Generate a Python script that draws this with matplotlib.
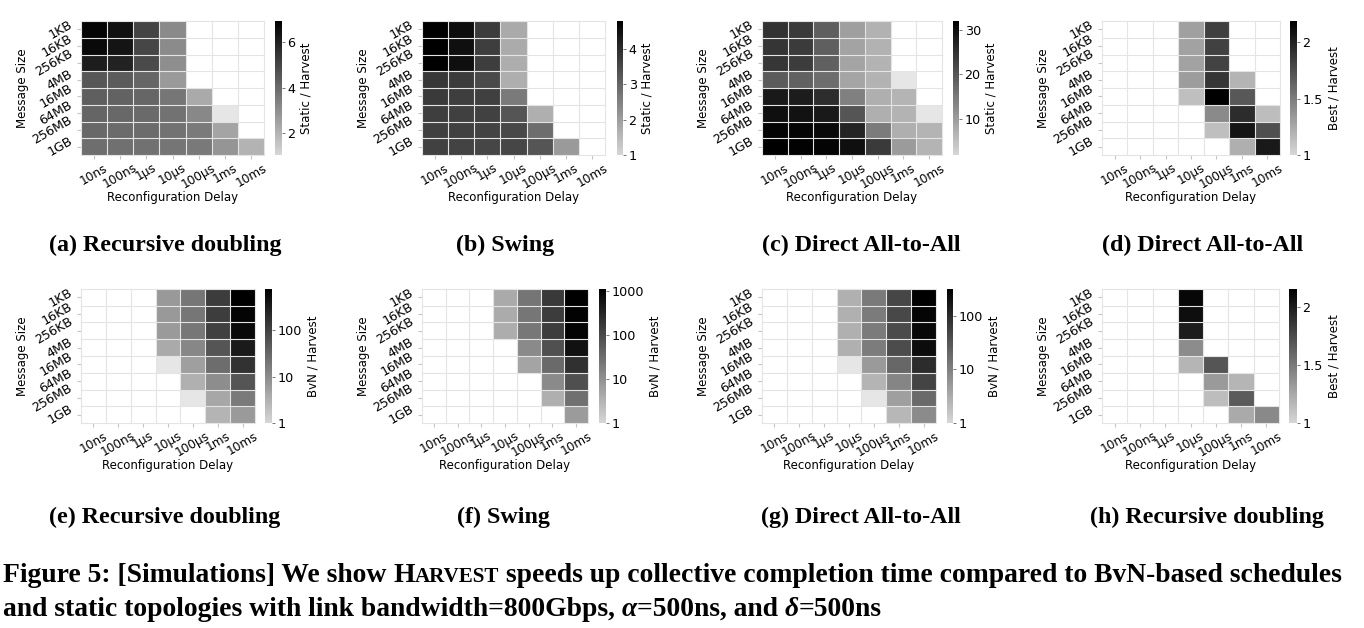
import numpy as np
import matplotlib
matplotlib.use('Agg')
import matplotlib.pyplot as plt
from matplotlib.colors import LinearSegmentedColormap, Normalize, LogNorm
from matplotlib.ticker import FixedLocator, NullLocator, FuncFormatter

n = np.nan

msg_sizes = ['1KB', '16KB', '256KB', '4MB', '16MB', '64MB', '256MB', '1GB']
delays = ['10ns', '100ns', '1µs', '10µs', '100µs', '1ms', '10ms']

# (a) Static / Harvest, Recursive doubling
static_rd = [[6.76, 6.44, 5.05, 3.15, n, n, n],
             [6.63, 6.33, 4.97, 3.10, n, n, n],
             [6.08, 5.98, 4.89, 3.04, n, n, n],
             [4.51, 4.40, 4.13, 2.72, n, n, n],
             [4.32, 4.21, 4.13, 3.67, 2.28, n, n],
             [4.16, 4.07, 4.02, 3.78, 3.20, 0.95, n],
             [4.07, 3.99, 3.94, 3.78, 3.59, 2.42, n],
             [3.91, 3.86, 3.80, 3.69, 3.61, 2.83, 2.04]]
# (b) Static / Harvest, Swing
static_swing = [[4.80, 4.55, 3.74, 1.80, n, n, n],
                [4.80, 4.52, 3.70, 1.76, n, n, n],
                [4.80, 4.53, 3.69, 1.74, n, n, n],
                [3.81, 3.74, 3.49, 1.72, n, n, n],
                [3.77, 3.70, 3.67, 2.64, n, n, n],
                [3.70, 3.67, 3.63, 3.30, 1.69, n, n],
                [3.67, 3.63, 3.60, 3.51, 2.86, n, n],
                [3.63, 3.60, 3.56, 3.54, 3.30, 2.08, n]]
# (c) Static / Harvest, Direct All-to-All
static_a2a = [[24.8, 23.8, 18.8, 9.6, 7.1, n, n],
              [24.5, 23.7, 18.7, 9.2, 7.1, n, n],
              [24.4, 23.6, 18.5, 9.1, 7.0, n, n],
              [19.1, 18.3, 16.6, 8.8, 7.0, 1.5, n],
              [28.3, 28.0, 25.5, 14.1, 7.4, 6.9, n],
              [29.7, 29.4, 28.3, 20.1, 7.4, 7.0, 1.5],
              [31.2, 31.1, 30.5, 26.8, 14.7, 7.4, 6.7],
              [31.9, 31.6, 31.2, 29.7, 23.8, 10.2, 6.7]]
# (d) Best / Harvest, Direct All-to-All
best_a2a = [[n, n, n, 1.30, 1.84, n, n],
            [n, n, n, 1.29, 1.83, n, n],
            [n, n, n, 1.29, 1.82, n, n],
            [n, n, n, 1.32, 1.89, 1.19, n],
            [n, n, n, 1.13, 2.19, 1.70, n],
            [n, n, n, n, 1.42, 1.94, 1.14],
            [n, n, n, n, 1.13, 2.07, 1.75],
            [n, n, n, n, n, 1.22, 2.05]]
# (e) BvN / Harvest, Recursive doubling
bvn_rd = [[n, n, n, 6.8, 19.4, 120, 770],
          [n, n, n, 6.8, 19.4, 113, 659],
          [n, n, n, 6.6, 18.8, 106, 565],
          [n, n, n, 4.0, 11.5, 55.6, 344],
          [n, n, n, 0.9, 5.5, 25.7, 159],
          [n, n, n, n, 3.3, 9.8, 55.6],
          [n, n, n, n, 0.9, 4.3, 17.7],
          [n, n, n, n, n, 2.9, 6.6]]
# (f) BvN / Harvest, Swing
bvn_swing = [[n, n, n, 4.4, 24.6, 170, 1130],
             [n, n, n, 4.1, 23.1, 159, 1059],
             [n, n, n, 3.9, 22.3, 149, 959],
             [n, n, n, n, 12.4, 82.6, 648],
             [n, n, n, n, 5.1, 35.3, 235],
             [n, n, n, n, n, 12.4, 85.3],
             [n, n, n, n, n, 3.6, 29.0],
             [n, n, n, n, n, n, 6.9]]
# (g) BvN / Harvest, Direct All-to-All
bvn_a2a = [[n, n, n, 2.8, 12.1, 47.2, 316],
           [n, n, n, 2.8, 11.7, 44.8, 276],
           [n, n, n, 2.8, 11.4, 42.5, 255],
           [n, n, n, 2.8, 11.1, 41.3, 229],
           [n, n, n, 0.9, 5.1, 19.5, 97],
           [n, n, n, n, 2.5, 9.0, 51],
           [n, n, n, n, 0.9, 4.4, 18.5],
           [n, n, n, n, n, 2.3, 7.4]]
# (h) Best / Harvest, Recursive doubling
best_rd = [[n, n, n, 2.12, n, n, n],
           [n, n, n, 2.08, n, n, n],
           [n, n, n, 2.00, n, n, n],
           [n, n, n, 1.40, n, n, n],
           [n, n, n, 1.18, 1.70, n, n],
           [n, n, n, n, 1.33, 1.18, n],
           [n, n, n, n, 1.14, 1.67, n],
           [n, n, n, n, n, 1.24, 1.42]]

W, H = 1364, 628
fig = plt.figure(figsize=(W / 100, H / 100), dpi=100)

cmap = LinearSegmentedColormap.from_list('lg', ['#d6d6d6', '#000000'])
cmap.set_under('#e6e6e6')
cmap.set_bad('white')

# data, log?, vmin, vmax, cbar label, cbar ticks, axes box px (x0,x1,y0,y1), cbar px (x0,x1), subcaption, caption center x, baseline y
panels = [
    (static_rd, False, 1.06, 6.9, 'Static / Harvest', [2, 4, 6], (81, 264, 21, 155), (275, 282), '(a) Recursive doubling', 165, 251),
    (static_swing, False, 1.0, 4.8, 'Static / Harvest', [1, 2, 3, 4], (422, 605, 21, 155), (617, 623), '(b) Swing', 505, 251),
    (static_a2a, False, 2.0, 31.9, 'Static / Harvest', [10, 20, 30], (762, 942, 21, 155), (953, 959), '(c) Direct All-to-All', 861, 251),
    (best_a2a, False, 1.0, 2.19, 'Best / Harvest', [1, 1.5, 2], (1102, 1280, 21, 155), (1290, 1297), '(d) Direct All-to-All', 1203, 251),
    (bvn_rd, True, 1.0, 770, 'BvN / Harvest', [1, 10, 100], (81, 255, 289, 423), (265, 272), '(e) Recursive doubling', 165, 523),
    (bvn_swing, True, 1.0, 1130, 'BvN / Harvest', [1, 10, 100, 1000], (422, 588, 289, 423), (599, 606), '(f) Swing', 503, 523),
    (bvn_a2a, True, 1.0, 316, 'BvN / Harvest', [1, 10, 100], (762, 936, 289, 423), (947, 953), '(g) Direct All-to-All', 861, 523),
    (best_rd, False, 1.0, 2.16, 'Best / Harvest', [1, 1.5, 2], (1102, 1279, 289, 423), (1289, 1297), '(h) Recursive doubling', 1207, 523),
]

fmt = FuncFormatter(lambda v, _: f'{v:g}')
tick_fs = 8.5
serif = ['Liberation Serif', 'DejaVu Serif']

for data, is_log, vmin, vmax, clabel, cticks, (x0, x1, y0, y1), (cx0, cx1), sub, scx, sby in panels:
    arr = np.ma.masked_invalid(np.array(data, dtype=float))
    ax = fig.add_axes([x0 / W, 1 - y1 / H, (x1 - x0) / W, (y1 - y0) / H])
    norm = LogNorm(vmin=vmin, vmax=vmax) if is_log else Normalize(vmin=vmin, vmax=vmax)
    mesh = ax.pcolormesh(np.arange(len(delays) + 1), np.arange(len(msg_sizes) + 1), arr,
                         cmap=cmap, norm=norm, shading='flat')
    ax.set_xlim(0, len(delays))
    ax.set_ylim(len(msg_sizes), 0)
    for i in range(0, len(delays) + 1):
        ax.axvline(i, color='#e4e4e4', lw=0.8, zorder=3, clip_on=False)
    for j in range(0, len(msg_sizes) + 1):
        ax.axhline(j, color='#e4e4e4', lw=0.8, zorder=3, clip_on=False)
    for s in ax.spines.values():
        s.set_visible(False)
    ax.set_xticks(np.arange(len(delays)) + 0.5)
    ax.set_xticklabels(delays, rotation=30, ha='center', fontsize=tick_fs + 0.2)
    ax.set_yticks(np.arange(len(msg_sizes)) + 0.5)
    ax.set_yticklabels(msg_sizes, rotation=30, ha='right', va='center', fontsize=tick_fs + 0.6)
    ax.tick_params(length=3, width=0.8, color='#c4c4c4', pad=1.5)
    ax.set_xlabel('Reconfiguration Delay', fontsize=tick_fs)
    ax.set_ylabel('Message Size', fontsize=tick_fs)
    ax.yaxis.set_label_coords(-52 / (x1 - x0), 0.5)
    ax.xaxis.set_label_coords(0.5, -36 / (y1 - y0))

    cax = fig.add_axes([cx0 / W, 1 - y1 / H, (cx1 - cx0) / W, (y1 - y0) / H])
    cb = fig.colorbar(mesh, cax=cax)
    cb.outline.set_visible(False)
    cax.yaxis.set_major_locator(FixedLocator(cticks))
    cax.yaxis.set_major_formatter(fmt)
    cax.yaxis.set_minor_locator(NullLocator())
    cax.tick_params(labelsize=9.2, length=2.5, width=0.7, color='#777777', pad=1.5)
    cb.set_label(clabel, fontsize=tick_fs, labelpad=3)

    fig.text(scx / W, 1 - sby / H, sub, ha='center', va='baseline',
             fontsize=17.3, fontweight='bold', family=serif)

# Figure caption with small caps "Harvest"
fig.canvas.draw()
rend = fig.canvas.get_renderer()


def width_of(s, **kw):
    t = fig.text(0, 0, s + '|', **kw)
    w1 = t.get_window_extent(rend).width
    t.set_text('|')
    w2 = t.get_window_extent(rend).width
    t.remove()
    return w1 - w2


base = dict(fontweight='bold', family=serif)
line1 = [('Figure 5: [Simulations] We show ', 1.0, 'normal'), ('H', 1.0, 'normal'),
         ('ARVEST', 0.76, 'normal'),
         (' speeds up collective completion time compared to BvN-based schedules', 1.0, 'normal')]
line2 = [('and static topologies with link bandwidth=800Gbps, ', 1.0, 'normal'), ('α', 1.0, 'italic'),
         ('=500ns, and ', 1.0, 'normal'), ('δ', 1.0, 'italic'), ('=500ns', 1.0, 'normal')]

fs0 = 16.0
total = sum(width_of(t, fontsize=fs0 * sc, fontstyle=st, **base) for t, sc, st in line1)
fs = fs0 * 1344 / total


def draw_line(runs, x, y):
    for t, sc, st in runs:
        kw = dict(fontsize=fs * sc, fontstyle=st, **base)
        fig.text(x / W, 1 - y / H, t, ha='left', va='baseline', **kw)
        x += width_of(t, **kw)


draw_line(line1, 3, 582)
draw_line(line2, 3, 616)

fig.savefig('out.png', dpi=100)
